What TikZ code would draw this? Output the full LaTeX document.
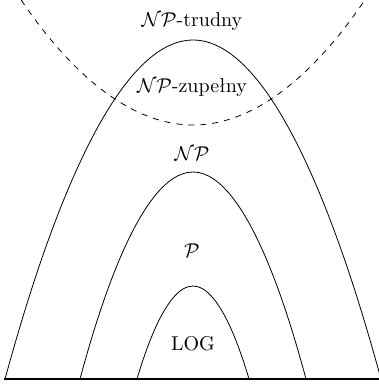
\documentclass[tikz,border=0pt]{standalone}
\begin{document}
\begin{tikzpicture}[x=0.5pt,y=-0.5pt,
  curve/.style={line width=0.4pt},
  border/.style={dashed,line width=0.4pt},
  lbl/.style={anchor=base,inner sep=0pt}]
\useasboundingbox (0,0) rectangle (379,385);
\clip (0,0) rectangle (379,385);
% parabolas
\coordinate (npL) at (5,379);   \coordinate (npT) at (193,40);  \coordinate (npR) at (381,379);
\coordinate (pL) at (80,379);   \coordinate (pT) at (193,172);  \coordinate (pR) at (306,379);
\coordinate (lL) at (137,379);  \coordinate (lT) at (193,286);  \coordinate (lR) at (249,379);
\coordinate (dL) at (14.5,-10); \coordinate (dB) at (193,125);  \coordinate (dR) at (371.5,-10);
\coordinate (baseL) at (4,379); \coordinate (baseR) at (385,379);
\draw[curve] (npL) parabola bend (npT) (npR);
\draw[curve] (pL) parabola bend (pT) (pR);
\draw[curve] (lL) parabola bend (lT) (lR);
\draw[border] (dL) parabola bend (dB) (dR);
\draw[line width=1pt] (baseL) -- (baseR);
% labels
\node[lbl] (hard) at (192,27) {$\mathcal{NP}$-trudny};
\node[lbl] (comp) at (192,92) {$\mathcal{NP}$-zupełny};
\node[lbl] (np) at (192,160) {$\mathcal{NP}$};
\node[lbl] (p) at (192,257) {$\mathcal{P}$};
\node[lbl] (log) at (193,350) {LOG};
\end{tikzpicture}
\end{document}
